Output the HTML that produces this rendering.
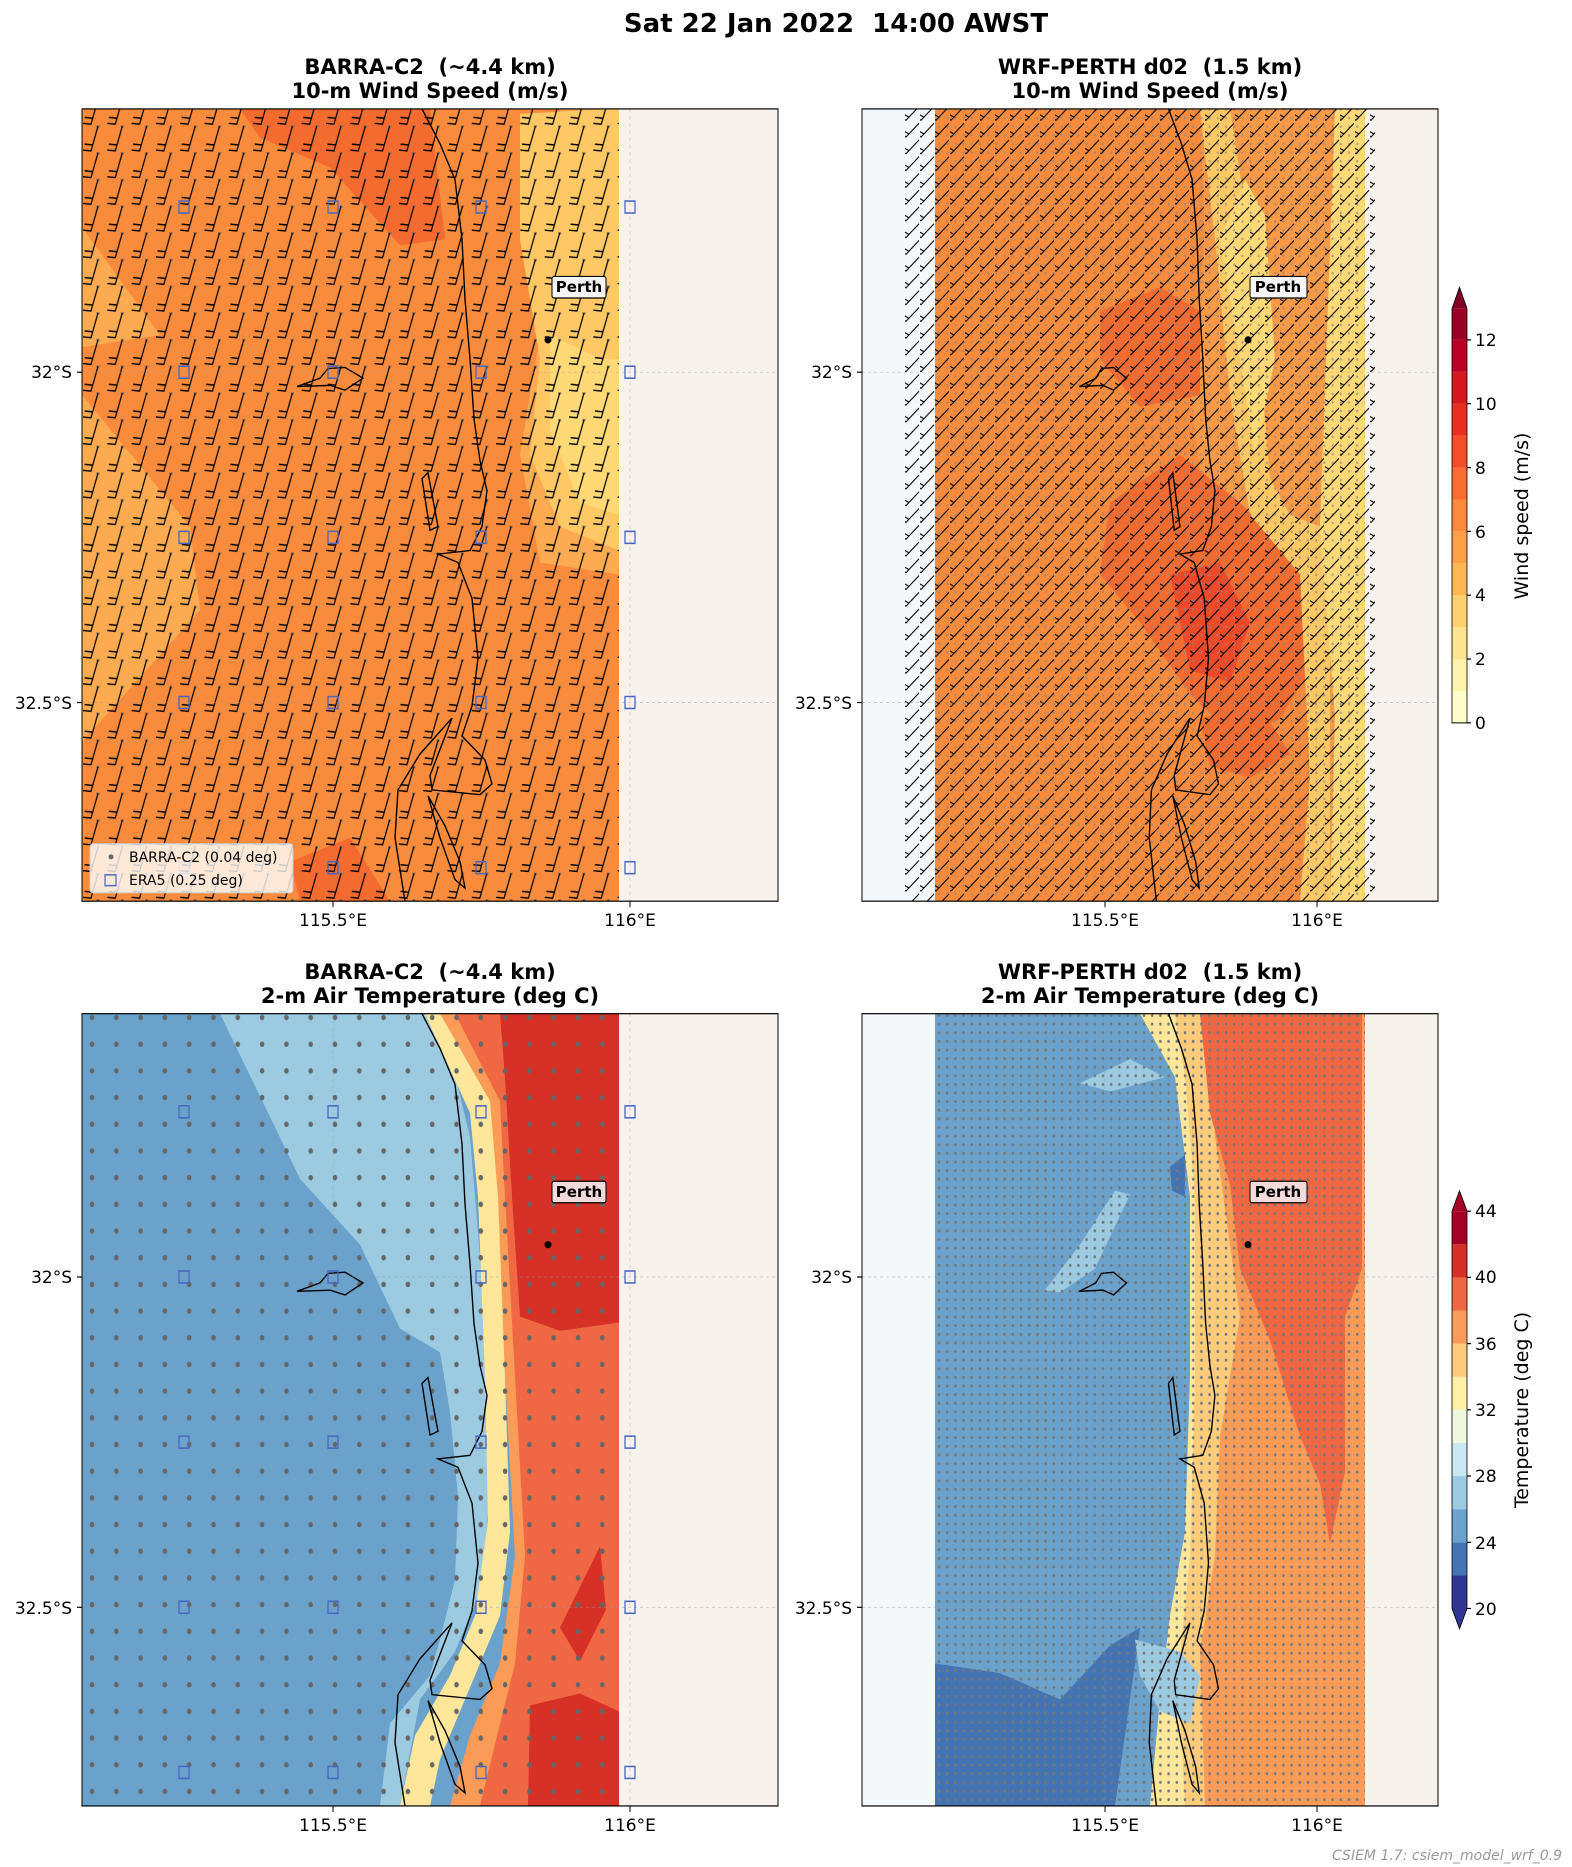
<!DOCTYPE html>
<html><head><meta charset="utf-8"><style>
html,body{margin:0;padding:0;background:#fff;}
#wrap{position:relative;width:1572px;height:1867px;overflow:hidden;}
svg{position:absolute;left:0;top:0;}
text{font-family:"DejaVu Sans","Liberation Sans",sans-serif;white-space:pre;}
</style></head><body><div id="wrap">
<svg width="1572" height="1867" viewBox="0 0 1572 1560" preserveAspectRatio="none">
<defs>
<pattern id="barbA" x="82" y="60" width="24.3" height="22.3" patternUnits="userSpaceOnUse">
<circle cx="16" cy="0.8" r="1.6" fill="#666" fill-opacity="0.7"/>
<path d="M16,0.8 L9,21.5 L1,20.8 M10.6,16.5 L2.6,15.8" stroke="#000" stroke-width="1.2" fill="none"/>
</pattern>
<pattern id="barbB" x="905" y="88" width="15" height="14" patternUnits="userSpaceOnUse">
<path d="M14,1 L1,12.5 L-3,10.5 M4,10 L0,8" stroke="#000" stroke-width="1" fill="none"/>
</pattern>
<pattern id="dotsA" x="82" y="84" width="24.3" height="22.3" patternUnits="userSpaceOnUse">
<circle cx="10" cy="8" r="2.3" fill="#666"/>
</pattern>
<pattern id="dotsB" x="935" y="845" width="8.2" height="7.2" patternUnits="userSpaceOnUse">
<circle cx="4" cy="3.5" r="1.3" fill="#777"/>
</pattern>
<pattern id="dotsC" x="935" y="88" width="8.2" height="7.2" patternUnits="userSpaceOnUse">
<circle cx="4" cy="3.5" r="1.1" fill="#888" fill-opacity="0.7"/>
</pattern>
<clipPath id="cTL"><rect x="82" y="91" width="696" height="662"/></clipPath>
<clipPath id="cTR"><rect x="862" y="91" width="576" height="662"/></clipPath>
<clipPath id="cBL"><rect x="82" y="847" width="696" height="662"/></clipPath>
<clipPath id="cBR"><rect x="862" y="847" width="576" height="662"/></clipPath>
<g id="coast" fill="none" stroke="#000" stroke-width="1.4">
<path vector-effect="non-scaling-stroke" d="M422,91 L440,120 L455,150 L462,200 L465,250 L470,300 L474,350 L480,385 L487,410 L482,440 L470,460 L438,463 L458,470 L472,500 L478,550 L472,590 L462,615 L485,635 L492,655 L480,664 L432,660 L430,648 L452,600 L420,630 L398,660 L395,700 L405,753"/>
<path vector-effect="non-scaling-stroke" d="M297,323 L320,316 L328,308 L345,307 L363,316 L345,326 L330,322 Z"/>
<path vector-effect="non-scaling-stroke" d="M422,400 L428,395 L438,440 L430,443 Z"/>
<path vector-effect="non-scaling-stroke" d="M428,665 L445,690 L460,720 L465,742 L455,735 L440,700 Z"/>
</g>
</defs>

<!-- TOP LEFT -->
<g clip-path="url(#cTL)">
<rect x="82" y="91" width="696" height="662" fill="#f7f3ec"/>
<rect x="82" y="91" width="537" height="662" fill="#fdab50"/>
<path d="M82,91 L560,91 L575,200 L540,280 L520,380 L540,470 L619,480 L619,753 L82,753 L82,620 L200,510 L190,440 L82,330 L82,290 L160,280 L82,190 Z" fill="#f98c3c"/>
<path d="M520,95 L619,91 L619,460 L560,440 L530,380 L540,300 L520,200 Z" fill="#fec965"/>
<path d="M550,280 L600,300 L619,300 L619,430 L580,420 L550,360 Z" fill="#fed976"/>
<path d="M240,91 L430,91 L445,200 L400,205 L330,140 L260,115 Z" fill="#f46b2f"/>
<path d="M290,720 L350,700 L390,753 L300,753 Z" fill="#f46b2f"/>
<rect x="82" y="60" width="537" height="700" fill="url(#barbA)"/>
<use href="#coast"/>
<line x1="333" y1="91" x2="333" y2="753" stroke="#999" stroke-width="0.6" stroke-dasharray="3,3" opacity="0.6"/>
<line x1="630" y1="91" x2="630" y2="753" stroke="#999" stroke-width="0.6" stroke-dasharray="3,3" opacity="0.6"/>
<line x1="82" y1="311" x2="778" y2="311" stroke="#999" stroke-width="0.6" stroke-dasharray="3,3" opacity="0.6"/>
<line x1="82" y1="587" x2="778" y2="587" stroke="#999" stroke-width="0.6" stroke-dasharray="3,3" opacity="0.6"/>
<g fill="none" stroke="#4a67c0" stroke-width="1.3">
<rect x="179" y="168" width="10" height="10"/><rect x="328" y="168" width="10" height="10"/><rect x="476" y="168" width="10" height="10"/><rect x="625" y="168" width="10" height="10"/>
<rect x="179" y="306" width="10" height="10"/><rect x="328" y="306" width="10" height="10"/><rect x="476" y="306" width="10" height="10"/><rect x="625" y="306" width="10" height="10"/>
<rect x="179" y="444" width="10" height="10"/><rect x="328" y="444" width="10" height="10"/><rect x="476" y="444" width="10" height="10"/><rect x="625" y="444" width="10" height="10"/>
<rect x="179" y="582" width="10" height="10"/><rect x="328" y="582" width="10" height="10"/><rect x="476" y="582" width="10" height="10"/><rect x="625" y="582" width="10" height="10"/>
<rect x="179" y="720" width="10" height="10"/><rect x="328" y="720" width="10" height="10"/><rect x="476" y="720" width="10" height="10"/><rect x="625" y="720" width="10" height="10"/>
</g>
<ellipse cx="548" cy="284" rx="3.5" ry="3" fill="#000"/>
<rect x="552" y="231" width="54" height="18" rx="2" fill="#f5f5f5" stroke="#000" stroke-width="1"/>
<rect x="90" y="705" width="203" height="41" rx="3" fill="#fff" fill-opacity="0.8" stroke="#ccc"/>
<ellipse cx="111" cy="716" rx="2.5" ry="2.1" fill="#666"/>
<rect x="105" y="731" width="11" height="9" fill="none" stroke="#4a67c0" stroke-width="1.2"/>
</g>
<rect x="82" y="91" width="696" height="662" fill="none" stroke="#000" stroke-width="1"/>

<!-- TOP RIGHT -->
<g clip-path="url(#cTR)">
<rect x="862" y="91" width="73" height="662" fill="#f4f8fb"/>
<rect x="1365" y="91" width="73" height="662" fill="#f7f3ec"/>
<rect x="935" y="91" width="430" height="662" fill="#fb9a46"/>
<path d="M935,91 L1200,91 L1205,200 L1190,320 L1205,430 L1260,440 L1300,470 L1330,540 L1330,753 L935,753 Z" fill="#f98c3c"/>
<path d="M1100,260 L1160,240 L1200,260 L1200,330 L1140,340 L1100,300 Z" fill="#f46b2f"/>
<path d="M1110,420 L1180,380 L1240,420 L1300,470 L1310,560 L1280,600 L1240,620 L1190,580 L1140,520 L1100,480 Z" fill="#f46b2f"/>
<path d="M1170,480 L1220,470 L1250,520 L1230,570 L1190,560 Z" fill="#ec4a28"/>
<path d="M1200,600 L1260,590 L1290,630 L1250,650 L1210,640 Z" fill="#f46b2f"/>
<path d="M1200,91 L1230,91 L1250,200 L1260,300 L1270,400 L1290,430 L1320,440 L1330,480 L1330,753 L1300,753 L1310,650 L1300,480 L1250,430 L1230,330 L1215,200 Z" fill="#fec965"/>
<path d="M1335,91 L1365,91 L1365,753 L1330,753 L1335,600 L1320,440 Z" fill="#fed976"/>
<path d="M1255,380 L1275,300 L1265,180 L1245,150 L1220,200 L1240,300 Z" fill="#fed976"/>
<rect x="935" y="91" width="430" height="662" fill="url(#dotsC)"/>
<rect x="905" y="88" width="470" height="668" fill="url(#barbB)"/>
<use href="#coast" transform="matrix(0.7138,0,0,1,867.3,0)"/>
<line x1="1105" y1="91" x2="1105" y2="753" stroke="#999" stroke-width="0.6" stroke-dasharray="3,3" opacity="0.6"/>
<line x1="1317" y1="91" x2="1317" y2="753" stroke="#999" stroke-width="0.6" stroke-dasharray="3,3" opacity="0.6"/>
<line x1="862" y1="311" x2="1438" y2="311" stroke="#999" stroke-width="0.6" stroke-dasharray="3,3" opacity="0.6"/>
<line x1="862" y1="587" x2="1438" y2="587" stroke="#999" stroke-width="0.6" stroke-dasharray="3,3" opacity="0.6"/>
<ellipse cx="1248" cy="284" rx="3.5" ry="3" fill="#000"/>
<rect x="1250" y="231" width="57" height="18" rx="2" fill="#f5f5f5" stroke="#000" stroke-width="1"/>
</g>
<rect x="862" y="91" width="576" height="662" fill="none" stroke="#000" stroke-width="1"/>

<!-- colorbar wind -->
<g>
<rect x="1452" y="577.3" width="15" height="26.7" fill="#ffffcc"/>
<rect x="1452" y="550.7" width="15" height="26.7" fill="#fff3ae"/>
<rect x="1452" y="524" width="15" height="26.7" fill="#fee391"/>
<rect x="1452" y="497.3" width="15" height="26.7" fill="#fed06f"/>
<rect x="1452" y="470.7" width="15" height="26.7" fill="#feb751"/>
<rect x="1452" y="444" width="15" height="26.7" fill="#fd9f44"/>
<rect x="1452" y="417.3" width="15" height="26.7" fill="#fd8a3c"/>
<rect x="1452" y="390.7" width="15" height="26.7" fill="#fc6c32"/>
<rect x="1452" y="364" width="15" height="26.7" fill="#f64d29"/>
<rect x="1452" y="337.3" width="15" height="26.7" fill="#e92e21"/>
<rect x="1452" y="310.7" width="15" height="26.7" fill="#d6181f"/>
<rect x="1452" y="284" width="15" height="26.7" fill="#bd0026"/>
<rect x="1452" y="258" width="15" height="26" fill="#9b0026"/>
<path d="M1452,258 L1459.5,240 L1467,258 Z" fill="#800026"/>
<path d="M1452,258 L1459.5,240 L1467,258 L1467,604 L1452,604 Z" fill="none" stroke="#000" stroke-width="0.8"/>
<g stroke="#000" stroke-width="1">
<line x1="1467" y1="604" x2="1471" y2="604"/><line x1="1467" y1="550.7" x2="1471" y2="550.7"/><line x1="1467" y1="497.3" x2="1471" y2="497.3"/><line x1="1467" y1="444" x2="1471" y2="444"/><line x1="1467" y1="390.7" x2="1471" y2="390.7"/><line x1="1467" y1="337.3" x2="1471" y2="337.3"/><line x1="1467" y1="284" x2="1471" y2="284"/>
</g>
</g>

<!-- BOTTOM LEFT -->
<g clip-path="url(#cBL)">
<rect x="82" y="847" width="696" height="662" fill="#f7f3ec"/>
<rect x="82" y="847" width="537" height="662" fill="#6aa2cc"/>
<path d="M220,847 L440,847 L470,950 L480,1050 L488,1150 L490,1250 L480,1330 L455,1380 L420,1420 L400,1509 L380,1509 L390,1440 L430,1400 L440,1370 L455,1320 L458,1250 L450,1180 L440,1130 L400,1110 L360,1040 L300,985 Z" fill="#9ccbe1"/>
<path d="M425,847 L470,847 L495,900 L500,1000 L505,1150 L510,1280 L500,1350 L480,1390 L460,1430 L440,1470 L430,1509 L400,1509 L415,1450 L450,1400 L475,1350 L488,1270 L485,1150 L478,1000 L470,930 Z" fill="#fee79a"/>
<path d="M440,847 L619,847 L619,1509 L450,1509 L470,1450 L500,1390 L515,1300 L505,1150 L498,1000 L490,920 Z" fill="#fa9c58"/>
<path d="M455,847 L619,847 L619,1509 L480,1509 L500,1440 L515,1390 L525,1300 L515,1150 L505,1000 L500,920 Z" fill="#f06843"/>
<path d="M500,847 L619,847 L619,1105 L560,1112 L520,1100 L512,1000 L505,900 Z" fill="#d73027"/>
<path d="M530,1425 L580,1415 L619,1430 L619,1509 L528,1509 Z" fill="#d73027"/>
<path d="M560,1360 L600,1292 L606,1345 L580,1388 Z" fill="#d73027"/>
<rect x="82" y="847" width="537" height="662" fill="url(#dotsA)"/>
<use href="#coast" transform="translate(0,756)"/>
<line x1="333" y1="847" x2="333" y2="1509" stroke="#999" stroke-width="0.6" stroke-dasharray="3,3" opacity="0.6"/>
<line x1="630" y1="847" x2="630" y2="1509" stroke="#999" stroke-width="0.6" stroke-dasharray="3,3" opacity="0.6"/>
<line x1="82" y1="1067" x2="778" y2="1067" stroke="#999" stroke-width="0.6" stroke-dasharray="3,3" opacity="0.6"/>
<line x1="82" y1="1343" x2="778" y2="1343" stroke="#999" stroke-width="0.6" stroke-dasharray="3,3" opacity="0.6"/>
<g fill="none" stroke="#4a67c0" stroke-width="1.3">
<rect x="179" y="924" width="10" height="10"/><rect x="328" y="924" width="10" height="10"/><rect x="476" y="924" width="10" height="10"/><rect x="625" y="924" width="10" height="10"/>
<rect x="179" y="1062" width="10" height="10"/><rect x="328" y="1062" width="10" height="10"/><rect x="476" y="1062" width="10" height="10"/><rect x="625" y="1062" width="10" height="10"/>
<rect x="179" y="1200" width="10" height="10"/><rect x="328" y="1200" width="10" height="10"/><rect x="476" y="1200" width="10" height="10"/><rect x="625" y="1200" width="10" height="10"/>
<rect x="179" y="1338" width="10" height="10"/><rect x="328" y="1338" width="10" height="10"/><rect x="476" y="1338" width="10" height="10"/><rect x="625" y="1338" width="10" height="10"/>
<rect x="179" y="1476" width="10" height="10"/><rect x="328" y="1476" width="10" height="10"/><rect x="476" y="1476" width="10" height="10"/><rect x="625" y="1476" width="10" height="10"/>
</g>
<ellipse cx="548" cy="1040" rx="3.5" ry="3" fill="#000"/>
<rect x="552" y="987" width="54" height="18" rx="2" fill="#f3dada" stroke="#000" stroke-width="1"/>
</g>
<rect x="82" y="847" width="696" height="662" fill="none" stroke="#000" stroke-width="1"/>

<!-- BOTTOM RIGHT -->
<g clip-path="url(#cBR)">
<rect x="862" y="847" width="73" height="662" fill="#f4f8fb"/>
<rect x="1365" y="847" width="73" height="662" fill="#f7f3ec"/>
<rect x="935" y="847" width="430" height="662" fill="#fa9c58"/>
<rect x="935" y="847" width="265" height="662" fill="#6aa2cc"/>
<path d="M1140,847 L1190,847 L1200,950 L1210,1100 L1205,1200 L1200,1300 L1185,1360 L1180,1420 L1190,1509 L1150,1509 L1160,1420 L1170,1350 L1185,1280 L1190,1150 L1190,1000 L1175,900 Z" fill="#fee79a"/>
<path d="M1175,847 L1210,847 L1215,950 L1240,1100 L1220,1200 L1215,1300 L1200,1380 L1205,1509 L1185,1509 L1178,1400 L1190,1300 L1195,1150 L1195,1000 L1185,900 Z" fill="#fdcc7b"/>
<path d="M1200,847 L1362,847 L1362,1060 L1345,1100 L1345,1230 L1330,1290 L1320,1240 L1300,1200 L1270,1120 L1240,1060 L1230,990 L1210,930 Z" fill="#f06843"/>
<path d="M935,1390 L1000,1398 L1060,1420 L1110,1375 L1140,1360 L1115,1509 L935,1509 Z" fill="#4574b3"/>
<path d="M1045,1078 L1080,1040 L1115,995 L1130,998 L1095,1060 L1060,1080 Z" fill="#9ccbe1"/>
<path d="M1080,905 L1130,885 L1165,900 L1110,912 Z" fill="#9ccbe1"/>
<path d="M1135,1370 L1180,1380 L1200,1400 L1190,1440 L1160,1430 L1140,1400 Z" fill="#9ccbe1"/>
<path d="M1170,975 L1185,965 L1185,1000 L1172,995 Z" fill="#4574b3"/>
<rect x="935" y="847" width="430" height="662" fill="url(#dotsB)"/>
<use href="#coast" transform="matrix(0.7138,0,0,1,867.3,756)"/>
<line x1="1105" y1="847" x2="1105" y2="1509" stroke="#999" stroke-width="0.6" stroke-dasharray="3,3" opacity="0.6"/>
<line x1="1317" y1="847" x2="1317" y2="1509" stroke="#999" stroke-width="0.6" stroke-dasharray="3,3" opacity="0.6"/>
<line x1="862" y1="1067" x2="1438" y2="1067" stroke="#999" stroke-width="0.6" stroke-dasharray="3,3" opacity="0.6"/>
<line x1="862" y1="1343" x2="1438" y2="1343" stroke="#999" stroke-width="0.6" stroke-dasharray="3,3" opacity="0.6"/>
<ellipse cx="1248" cy="1040" rx="3.5" ry="3" fill="#000"/>
<rect x="1250" y="987" width="57" height="18" rx="2" fill="#f3dada" stroke="#000" stroke-width="1"/>
</g>
<rect x="862" y="847" width="576" height="662" fill="none" stroke="#000" stroke-width="1"/>

<!-- colorbar temp -->
<g>
<rect x="1452" y="1316.3" width="15" height="27.7" fill="#313695"/>
<rect x="1452" y="1288.7" width="15" height="27.7" fill="#4574b3"/>
<rect x="1452" y="1261" width="15" height="27.7" fill="#6aa2cc"/>
<rect x="1452" y="1233.3" width="15" height="27.7" fill="#9ccbe1"/>
<rect x="1452" y="1205.7" width="15" height="27.7" fill="#c9e6f0"/>
<rect x="1452" y="1178" width="15" height="27.7" fill="#eef8df"/>
<rect x="1452" y="1150.3" width="15" height="27.7" fill="#fef0a7"/>
<rect x="1452" y="1122.7" width="15" height="27.7" fill="#fdcc7b"/>
<rect x="1452" y="1095" width="15" height="27.7" fill="#fa9c58"/>
<rect x="1452" y="1067.3" width="15" height="27.7" fill="#f06843"/>
<rect x="1452" y="1039.7" width="15" height="27.7" fill="#d73027"/>
<rect x="1452" y="1012" width="15" height="27.7" fill="#a50026"/>
<path d="M1452,1012 L1459.5,995 L1467,1012 Z" fill="#a50026"/>
<path d="M1452,1344 L1459.5,1361 L1467,1344 Z" fill="#313695"/>
<path d="M1452,1012 L1459.5,995 L1467,1012 L1467,1344 L1459.5,1361 L1452,1344 Z" fill="none" stroke="#000" stroke-width="0.8"/>
<g stroke="#000" stroke-width="1">
<line x1="1467" y1="1344" x2="1471" y2="1344"/><line x1="1467" y1="1288.7" x2="1471" y2="1288.7"/><line x1="1467" y1="1233.3" x2="1471" y2="1233.3"/><line x1="1467" y1="1178" x2="1471" y2="1178"/><line x1="1467" y1="1122.7" x2="1471" y2="1122.7"/><line x1="1467" y1="1067.3" x2="1471" y2="1067.3"/><line x1="1467" y1="1012" x2="1471" y2="1012"/>
</g>
</g>
<!-- axis ticks -->
<g stroke="#000" stroke-width="1">
<line x1="333" y1="753" x2="333" y2="758"/><line x1="630" y1="753" x2="630" y2="758"/>
<line x1="1105" y1="753" x2="1105" y2="758"/><line x1="1317" y1="753" x2="1317" y2="758"/>
<line x1="333" y1="1509" x2="333" y2="1514"/><line x1="630" y1="1509" x2="630" y2="1514"/>
<line x1="1105" y1="1509" x2="1105" y2="1514"/><line x1="1317" y1="1509" x2="1317" y2="1514"/>
<line x1="77" y1="311" x2="82" y2="311"/><line x1="77" y1="587" x2="82" y2="587"/>
<line x1="857" y1="311" x2="862" y2="311"/><line x1="857" y1="587" x2="862" y2="587"/>
<line x1="77" y1="1067" x2="82" y2="1067"/><line x1="77" y1="1343" x2="82" y2="1343"/>
<line x1="857" y1="1067" x2="862" y2="1067"/><line x1="857" y1="1343" x2="862" y2="1343"/>
</g>
</svg>

<!-- TEXT overlay (true coordinates) -->
<svg width="1572" height="1867" viewBox="0 0 1572 1867">
<text x="836" y="32" font-size="26" font-weight="bold" text-anchor="middle" xml:space="preserve">Sat 22 Jan 2022  14:00 AWST</text>
<g font-size="21" font-weight="bold" text-anchor="middle">
<text x="430" y="74" xml:space="preserve">BARRA-C2  (~4.4 km)</text><text x="430" y="98">10-m Wind Speed (m/s)</text>
<text x="1150" y="74" xml:space="preserve">WRF-PERTH d02  (1.5 km)</text><text x="1150" y="98">10-m Wind Speed (m/s)</text>
<text x="430" y="979" xml:space="preserve">BARRA-C2  (~4.4 km)</text><text x="430" y="1003">2-m Air Temperature (deg C)</text>
<text x="1150" y="979" xml:space="preserve">WRF-PERTH d02  (1.5 km)</text><text x="1150" y="1003">2-m Air Temperature (deg C)</text>
</g>
<g font-size="17" text-anchor="middle">
<text x="333" y="926">115.5°E</text><text x="630" y="926">116°E</text>
<text x="1105" y="926">115.5°E</text><text x="1317" y="926">116°E</text>
<text x="333" y="1831">115.5°E</text><text x="630" y="1831">116°E</text>
<text x="1105" y="1831">115.5°E</text><text x="1317" y="1831">116°E</text>
</g>
<g font-size="17" text-anchor="end">
<text x="72" y="378">32°S</text><text x="72" y="709">32.5°S</text>
<text x="852" y="378">32°S</text><text x="852" y="709">32.5°S</text>
<text x="72" y="1283">32°S</text><text x="72" y="1614">32.5°S</text>
<text x="852" y="1283">32°S</text><text x="852" y="1614">32.5°S</text>
</g>
<g font-size="17">
<text x="1475" y="729">0</text><text x="1475" y="665">2</text><text x="1475" y="601">4</text><text x="1475" y="538">6</text><text x="1475" y="474">8</text><text x="1475" y="410">10</text><text x="1475" y="346">12</text>
<text x="1475" y="1615">20</text><text x="1475" y="1549">24</text><text x="1475" y="1482">28</text><text x="1475" y="1416">32</text><text x="1475" y="1350">36</text><text x="1475" y="1283">40</text><text x="1475" y="1217">44</text>
</g>
<text transform="translate(1528,516) rotate(-90)" font-size="19" text-anchor="middle">Wind speed (m/s)</text>
<text transform="translate(1528,1410) rotate(-90)" font-size="19" text-anchor="middle">Temperature (deg C)</text>
<g font-size="15" font-weight="bold" text-anchor="middle">
<text x="579" y="292">Perth</text><text x="1278" y="292">Perth</text>
<text x="579" y="1197">Perth</text><text x="1278" y="1197">Perth</text>
</g>
<g font-size="14">
<text x="129" y="862">BARRA-C2 (0.04 deg)</text>
<text x="129" y="885">ERA5 (0.25 deg)</text>
</g>
<text x="1562" y="1860" font-size="14" font-style="italic" fill="#999" text-anchor="end">CSIEM 1.7: csiem_model_wrf_0.9</text>
</svg>
</div></body></html>
